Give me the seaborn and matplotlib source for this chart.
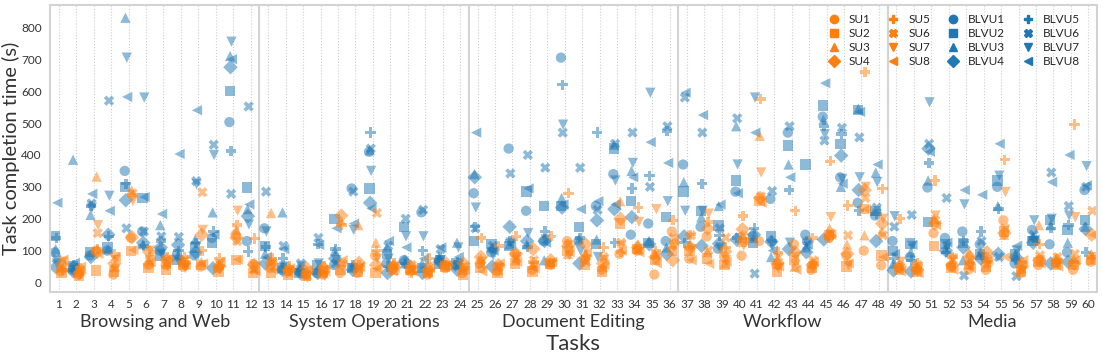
import numpy as np
import pandas as pd
import seaborn as sns
import matplotlib.pyplot as plt
from matplotlib.lines import Line2D
from matplotlib.transforms import blended_transform_factory

# %% DATA (task completion time in seconds, tasks 1..60)

tasks = list(range(1, 61))
groups = ['Browsing and Web', 'System Operations', 'Document Editing', 'Workflow', 'Media']

su1 = [35, 25, 100, 25, 140, 55, 55, 50, 50, 45, 150, 58,
       45, 35, 25, 25, 30, 30, 85, 45, 35, 25, 45, 30,
       60, 35, 90, 40, 55, 130, 75, 40, 90, 100, 25, 160,
       75, 144, 81, 84, 130, 55, 120, 40, 140, 85, 100, 54,
       45, 45, 155, 50, 40, 40, 195, 30, 55, 60, 40, 65]
su2 = [30, 20, 38, 35, 100, 45, 40, 55, 55, 35, 70, 30,
       30, 25, 20, 35, 40, 32, 30, 40, 40, 30, 50, 25,
       45, 30, 60, 35, 60, 100, 55, 35, 185, 105, 70, 100,
       100, 75, 54, 128, 255, 32, 70, 45, 150, 50, 230, 85,
       40, 35, 115, 45, 55, 50, 160, 35, 65, 55, 55, 70]
su3 = [45, 35, 332, 50, 290, 70, 60, 65, 65, 55, 165, 45,
       218, 45, 30, 30, 195, 180, 125, 55, 45, 35, 55, 40,
       75, 40, 70, 55, 65, 90, 90, 50, 255, 120, 90, 120,
       120, 95, 60, 150, 460, 70, 50, 60, 170, 119, 148, 160,
       55, 50, 200, 60, 95, 75, 150, 45, 180, 75, 75, 90]
su4 = [55, 30, 95, 60, 142, 95, 70, 60, 150, 50, 140, 55,
       60, 40, 45, 45, 210, 62, 55, 50, 50, 40, 60, 60,
       80, 55, 90, 105, 70, 115, 120, 60, 200, 110, 80, 70,
       110, 169, 97, 167, 265, 60, 95, 55, 145, 90, 290, 185,
       50, 40, 185, 55, 80, 95, 155, 50, 70, 70, 60, 150]
su5 = [40, 45, 105, 90, 275, 80, 80, 80, 100, 75, 180, 138,
       75, 50, 35, 50, 180, 55, 100, 60, 30, 75, 55, 45,
       140, 115, 145, 65, 145, 280, 85, 110, 95, 235, 100, 195,
       150, 190, 110, 209, 575, 95, 225, 140, 380, 242, 660, 294,
       200, 60, 320, 80, 60, 80, 385, 65, 120, 65, 495, 75]
su6 = [50, 40, 155, 45, 280, 60, 65, 70, 283, 60, 130, 40,
       65, 30, 20, 40, 60, 45, 218, 35, 55, 50, 50, 50,
       55, 50, 75, 70, 60, 120, 65, 80, 125, 100, 85, 140,
       148, 101, 141, 145, 270, 80, 60, 70, 155, 148, 265, 148,
       50, 55, 195, 70, 70, 60, 170, 55, 85, 80, 90, 225]
su7 = [65, 25, 180, 70, 255, 100, 50, 45, 165, 40, 225, 50,
       55, 35, 15, 20, 50, 40, 75, 50, 40, 25, 45, 35,
       65, 45, 80, 50, 55, 85, 70, 70, 115, 190, 230, 110,
       105, 216, 70, 115, 345, 45, 80, 50, 205, 55, 300, 200,
       65, 40, 210, 75, 50, 55, 284, 40, 70, 60, 205, 80]
su8 = [72, 50, 90, 80, 102, 65, 75, 55, 60, 65, 72, 35,
       40, 45, 40, 35, 70, 50, 45, 45, 35, 45, 55, 40,
       35, 60, 65, 45, 65, 95, 95, 55, 100, 95, 60, 130,
       70, 59, 65, 130, 250, 50, 40, 65, 150, 60, 230, 80,
       35, 30, 180, 40, 45, 70, 80, 70, 60, 50, 70, 150]

blvu1 = [95, 40, 85, 100, 350, 160, 100, 90, 85, 140, 503, 130,
         170, 40, 35, 30, 55, 295, 410, 60, 70, 220, 70, 55,
         280, 95, 420, 225, 130, 705, 130, 240, 340, 150, 185, 130,
         370, 175, 106, 285, 145, 262, 470, 150, 520, 330, 250, 210,
         130, 80, 298, 140, 160, 120, 300, 60, 165, 120, 95, 290]
blvu2 = [145, 50, 95, 110, 300, 265, 85, 70, 110, 125, 600, 298,
         115, 45, 30, 55, 200, 45, 295, 90, 175, 45, 60, 60,
         130, 120, 115, 285, 240, 240, 175, 120, 420, 255, 125, 205,
         285, 225, 179, 320, 125, 145, 430, 370, 555, 435, 540, 225,
         100, 122, 190, 120, 125, 88, 320, 90, 130, 195, 165, 195]
blvu3 = [105, 385, 212, 105, 830, 120, 180, 85, 135, 220, 710, 230,
         90, 220, 45, 40, 100, 50, 415, 110, 60, 60, 75, 125,
         340, 110, 120, 120, 70, 265, 135, 135, 432, 350, 130, 110,
         315, 205, 240, 490, 140, 80, 370, 110, 510, 300, 545, 345,
         60, 95, 320, 105, 70, 95, 240, 85, 145, 180, 125, 175]
blvu4 = [48, 35, 80, 150, 258, 125, 110, 118, 95, 45, 675, 208,
         60, 40, 30, 30, 75, 40, 250, 30, 65, 30, 65, 40,
         330, 50, 175, 130, 130, 235, 60, 195, 230, 205, 120, 90,
         145, 115, 122, 135, 150, 128, 105, 95, 135, 398, 290, 130,
         38, 35, 420, 100, 110, 75, 90, 80, 125, 60, 65, 168]
blvu5 = [140, 55, 240, 145, 310, 115, 130, 100, 125, 160, 412, 97,
         112, 75, 40, 120, 105, 55, 470, 50, 60, 100, 80, 65,
         175, 105, 130, 112, 160, 620, 140, 470, 125, 295, 335, 475,
         125, 310, 147, 140, 170, 130, 290, 130, 490, 465, 225, 215,
         75, 70, 375, 95, 130, 160, 230, 70, 140, 170, 180, 95]
blvu6 = [75, 45, 248, 570, 170, 160, 145, 143, 318, 432, 278, 552,
         285, 115, 60, 140, 60, 285, 420, 115, 200, 228, 105, 50,
         170, 115, 342, 400, 360, 470, 360, 228, 435, 470, 300, 490,
         580, 470, 170, 515, 28, 287, 490, 115, 445, 485, 455, 235,
         175, 212, 435, 265, 22, 130, 80, 20, 150, 345, 240, 300]
blvu7 = [60, 30, 235, 272, 705, 580, 90, 65, 308, 400, 755, 182,
         160, 50, 50, 60, 70, 165, 350, 75, 145, 145, 70, 110,
         235, 85, 125, 155, 135, 495, 100, 80, 320, 375, 595, 255,
         225, 225, 110, 370, 580, 115, 125, 125, 465, 325, 330, 315,
         208, 115, 565, 110, 245, 80, 335, 100, 195, 200, 210, 365]
blvu8 = [250, 62, 278, 225, 582, 268, 215, 403, 540, 150, 700, 245,
         80, 105, 25, 118, 170, 185, 232, 130, 110, 75, 110, 80,
         470, 100, 120, 295, 125, 245, 230, 255, 245, 330, 440, 375,
         595, 525, 244, 280, 470, 100, 330, 120, 625, 310, 535, 370,
         90, 118, 410, 125, 290, 275, 435, 115, 135, 315, 400, 305]

su_users = ['SU1', 'SU2', 'SU3', 'SU4', 'SU5', 'SU6', 'SU7', 'SU8']
blvu_users = ['BLVU1', 'BLVU2', 'BLVU3', 'BLVU4', 'BLVU5', 'BLVU6', 'BLVU7', 'BLVU8']
su_data = [su1, su2, su3, su4, su5, su6, su7, su8]
blvu_data = [blvu1, blvu2, blvu3, blvu4, blvu5, blvu6, blvu7, blvu8]

# %% LONG FORMAT

shapes = ['o', 's', '^', 'D', 'P', 'X', 'v', '<']
colors = {'SU': '#ff7f0e', 'BLVU': '#1f77b4'}
centre = {'SU': 0.2, 'BLVU': -0.15}

rows = []
for grp, users, series in [('BLVU', blvu_users, blvu_data), ('SU', su_users, su_data)]:
    for i, (u, vals) in enumerate(zip(users, series)):
        for t, v in zip(tasks, vals):
            rows.append({'Task': t, 'User': u, 'Group': grp, 'Time': v,
                         'xpos': t + centre[grp] + (i - 3.5) * 0.02})
data = pd.DataFrame(rows)

markers = {u: m for u, m in zip(su_users, shapes)}
markers.update({u: m for u, m in zip(blvu_users, shapes)})

# %% PLOT

sns.set_style('white')
plt.rcParams['font.family'] = ['Lato', 'DejaVu Sans']

fig, ax = plt.subplots(figsize=(11.02, 3.58), dpi=100)
fig.subplots_adjust(left=0.0454, right=0.9955, top=0.986, bottom=0.184)

sns.scatterplot(
    data=data,
    x='xpos',
    y='Time',
    hue='Group',
    palette=colors,
    style='User',
    markers=markers,
    s=55,
    alpha=0.5,
    linewidth=0,
    legend=False,
    ax=ax,
)

ax.set_xlim(0.5, 60.5)
ax.set_ylim(-30, 870)
ax.set_xticks(tasks)
ax.set_xticklabels([str(t) for t in tasks], fontsize=8.5, color='#333333')
ax.set_yticks(range(0, 801, 100))
ax.set_yticklabels([str(v) for v in range(0, 801, 100)], fontsize=8.5, color='#333333')
ax.tick_params(axis='x', length=0, pad=5)
ax.tick_params(axis='y', length=0, pad=6)
ax.grid(axis='x', linestyle=':', color='#cfcfcf', linewidth=0.8)
ax.set_axisbelow(True)

for sp in ax.spines.values():
    sp.set_color('#d3d3d3')
    sp.set_linewidth(1.5)

for b in [12.5, 24.5, 36.5, 48.5]:
    ax.axvline(b, color='#d3d3d3', linewidth=1.5, zorder=0.5)

trans = blended_transform_factory(ax.transData, ax.transAxes)
for k, g in enumerate(groups):
    ax.text(6.5 + 12 * k, -0.105, g, transform=trans, ha='center', va='center',
            fontsize=13, color='#333333')

ax.set_xlabel('Tasks', fontsize=16, color='#333333', labelpad=17)
ax.set_ylabel('Task completion time (s)', fontsize=14.5, color='#333333', labelpad=1)

handles = [Line2D([], [], linestyle='none', marker=m, color=colors['SU'], markersize=6)
           for m in shapes]
handles += [Line2D([], [], linestyle='none', marker=m, color=colors['BLVU'], markersize=6)
            for m in shapes]
ax.legend(handles, su_users + blvu_users, ncol=4, loc='upper right',
          bbox_to_anchor=(0.993, 1.0), frameon=False, fontsize=8.5,
          handlelength=1.0, handletextpad=0.8, columnspacing=1.4,
          labelspacing=0.25, borderaxespad=0.4)

fig.savefig('out.png', dpi=100)
